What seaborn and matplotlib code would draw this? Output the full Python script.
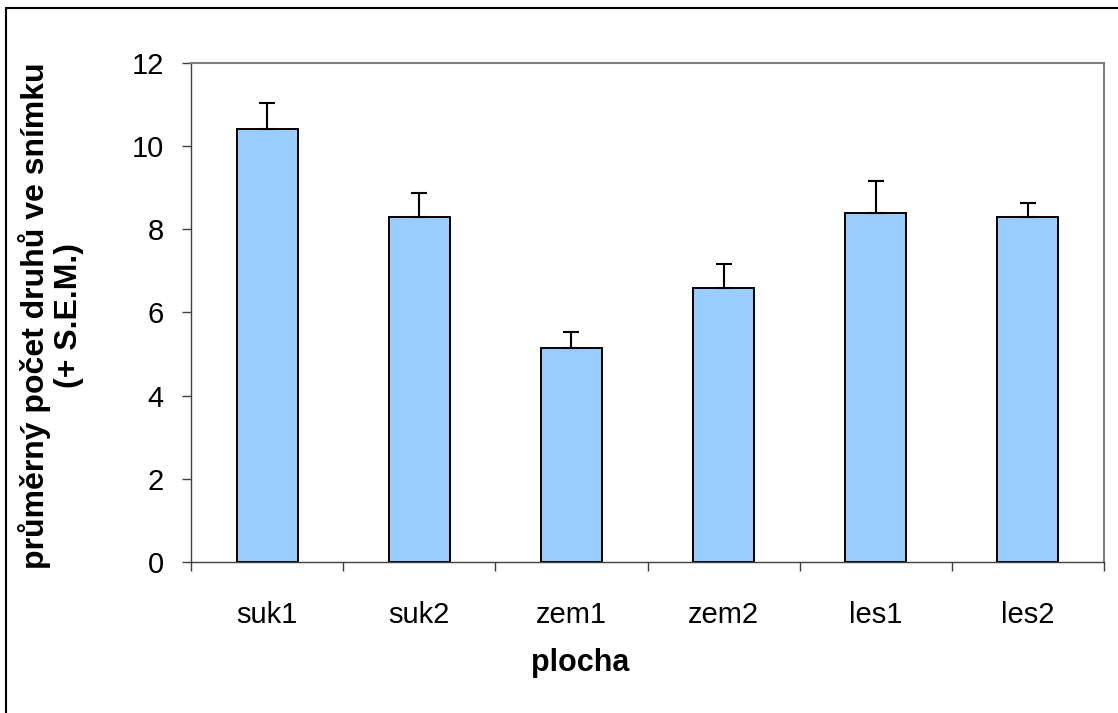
import matplotlib
matplotlib.use("Agg")
import matplotlib.pyplot as plt
import seaborn as sns
import pandas as pd
import numpy as np
from matplotlib.patches import Rectangle

categories = ["suk1", "suk2", "zem1", "zem2", "les1", "les2"]
means = [10.4, 8.3, 5.15, 6.6, 8.4, 8.3]
sems = [0.63, 0.58, 0.37, 0.56, 0.76, 0.34]
y_ticks = [0, 2, 4, 6, 8, 10, 12]

sns.set_theme(style="white")
plt.rcParams['font.family'] = ['Liberation Sans', 'DejaVu Sans']
plt.rcParams['text.color'] = 'black'
plt.rcParams['axes.labelcolor'] = 'black'

df = pd.DataFrame({"plocha": categories, "mean": means})

fig = plt.figure(figsize=(11.18, 7.13), dpi=100)
ax = fig.add_axes([191/1118, 1-562.3/713, (1104-191)/1118, (562.3-62.7)/713])

sns.barplot(data=df, x="plocha", y="mean", order=categories, color="#99CCFF",
            saturation=1, width=0.4, edgecolor="black", linewidth=1.4, ax=ax, errorbar=None)

xs = np.arange(len(categories))
ax.errorbar(xs, means, yerr=[np.zeros(len(sems)), sems], fmt="none", ecolor="black",
            elinewidth=1.5, capsize=5.5, capthick=1.5, zorder=3)

ax.set_xlim(-0.5, len(categories) - 0.5)
ax.set_ylim(0, 12)
ax.set_yticks(y_ticks)
ax.set_yticklabels([str(t) for t in y_ticks])

ax.set_xticks(xs)
ax.set_xticklabels(categories)
ax.set_xticks(np.arange(-0.5, len(categories)), minor=True)
ax.tick_params(axis="x", which="major", length=0, pad=28, labelsize=21, colors="black")
ax.tick_params(axis="x", which="minor", length=6.5, width=1, color="#404040", direction="out", bottom=True)
ax.tick_params(axis="y", which="major", length=6.5, width=1, color="#404040", direction="out",
               left=True, pad=13, labelsize=21, labelcolor="black")

for side in ["top", "right"]:
    ax.spines[side].set_visible(True)
    ax.spines[side].set_color("#808080")
    ax.spines[side].set_linewidth(1.5)
for side in ["left", "bottom"]:
    ax.spines[side].set_color("#404040")
    ax.spines[side].set_linewidth(1.0)

ax.set_xlabel("plocha", fontsize=22, fontweight="bold", va="center", color="black")
ax.xaxis.set_label_coords((580-191)/913, (562.3-663)/499.6)
ax.set_ylabel("průměrný počet druhů ve snímku\n(+ S.E.M.)", fontsize=23,
              fontweight="bold", va="center", linespacing=1.1, color="black")
ax.yaxis.set_label_coords((51-191)/913, (562.3-316)/499.6)
ax.grid(False)

fig.patches.append(Rectangle((6/1118, -0.05), 1.2, 1 - 8/713 + 0.05, transform=fig.transFigure,
                             fill=False, edgecolor="black", linewidth=1.5, figure=fig))

fig.savefig("out.png", dpi=100)
